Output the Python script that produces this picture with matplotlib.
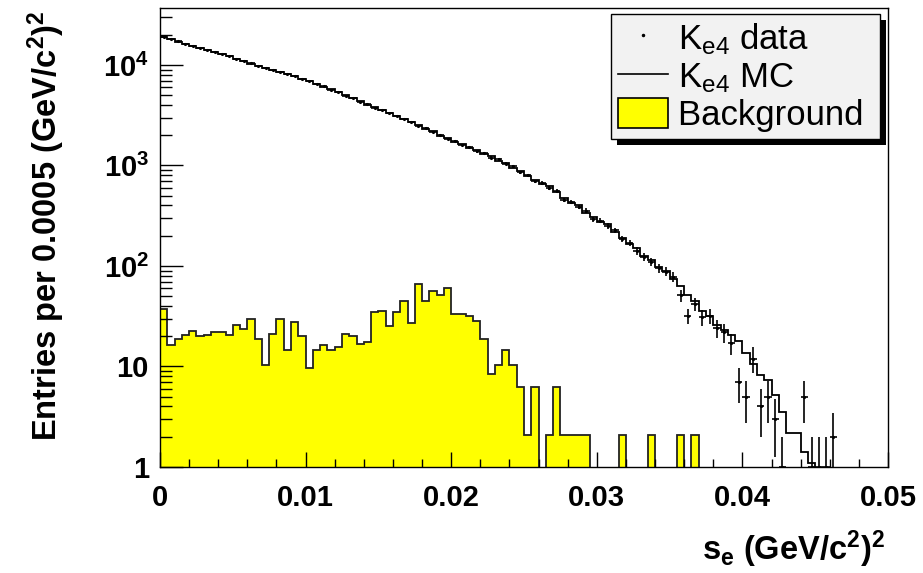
import numpy as np
import matplotlib
matplotlib.use("Agg")
import matplotlib.pyplot as plt
from matplotlib.lines import Line2D
from matplotlib.patches import Patch, Rectangle
from matplotlib.ticker import FixedLocator, MultipleLocator, NullFormatter, LogLocator
from matplotlib.transforms import IdentityTransform

plt.rcParams['font.family'] = ['Liberation Sans', 'DejaVu Sans']
plt.rcParams['mathtext.fontset'] = 'custom'
plt.rcParams['mathtext.rm'] = 'Liberation Sans'
plt.rcParams['mathtext.it'] = 'Liberation Sans:italic'
plt.rcParams['mathtext.bf'] = 'Liberation Sans:bold'

# 100 bins of 0.0005 (GeV/c^2)^2 from 0 to 0.05
bin_edges = np.linspace(0.0, 0.05, 101)

# Ke4 Monte Carlo (entries per bin)
mc = [19010, 18090, 17060, 16280, 15390, 14760, 14020, 13480, 12790, 12230,
      11510, 10970, 10330, 9850, 9360, 8950, 8510, 8170, 7710, 7310,
      6850, 6510, 6100, 5750, 5330, 5020, 4650, 4380, 4040, 3810,
      3530, 3350, 3090, 2930, 2690, 2530, 2310, 2180, 1980, 1880,
      1710, 1630, 1480, 1420, 1290, 1240, 1120, 1070, 950, 885,
      780, 715, 650, 620, 540, 470, 420, 400, 340, 305,
      272, 260, 216, 192, 164, 150, 127, 116, 98, 89,
      75, 63, 51, 45, 36, 32, 26, 23, 20.4, 17.8,
      13.5, 10.5, 8.3, 7.4, 5.2, 3.5, 2.2, 2.2, 1.4, 1.1,
      0.8, 0.6, 0.5, 0.4, 0.3, 0.2, 0.2, 0.1, 0.1, 0.1]

# Ke4 data (events per bin)
data = [19150, 17980, 17140, 16190, 15470, 14690, 14110, 13390, 12860, 12150,
        11580, 10900, 10390, 9790, 9410, 8890, 8570, 8120, 7760, 7260,
        6900, 6460, 6150, 5700, 5380, 4970, 4690, 4330, 4080, 3770,
        3570, 3310, 3130, 2890, 2730, 2490, 2350, 2140, 2020, 1840,
        1750, 1590, 1520, 1380, 1330, 1200, 1150, 1040, 980, 860,
        800, 695, 670, 600, 560, 455, 435, 385, 355, 292,
        283, 250, 226, 185, 170, 142, 124, 110, 95, 88,
        78, 51, 32, 42, 31, 32, 24, 22, 17, 7,
        5, 12, 4, 5, 3, 1, 0, 0, 5, 1,
        1, 1, 2, 0, 0, 0, 0, 0, 0, 0]

# background estimate
bkg = [37, 16.5, 18.7, 20.6, 22.7, 20.0, 20.7, 22.0, 22.0, 20.6,
       26.0, 23.6, 30.0, 18.8, 10.4, 20.9, 30.0, 14.6, 27.7, 20.0,
       9.6, 14.6, 16.5, 14.6, 15.5, 20.9, 20.0, 16.6, 17.7, 35.0,
       36.0, 25.3, 35.0, 45.0, 27.3, 66.0, 45.0, 56.0, 52.0, 60.0,
       33.0, 33.0, 31.8, 28.6, 18.9, 8.4, 10.4, 14.5, 10.4, 6.3,
       2.1, 6.3, 0, 2.1, 6.3, 2.1, 2.1, 2.1, 2.1, 0,
       0, 0, 0, 2.1, 0, 0, 0, 2.1, 0, 0,
       0, 2.1, 0, 2.1, 0, 0, 0, 0, 0, 0,
       0, 0, 0, 0, 0, 0, 0, 0, 0, 0,
       0, 0, 0, 0, 0, 0, 0, 0, 0, 0]

W, H = 923, 573
fig = plt.figure(figsize=(W / 100, H / 100), dpi=100)
ax = fig.add_axes([160 / W, 1 - 467 / H, 728 / W, 459 / H])
ax.set_yscale('log')

bkg_arr = np.array(bkg, dtype=float)
bkg_draw = np.where(bkg_arr > 0, bkg_arr, 0.05)
ax.stairs(bkg_draw, bin_edges, baseline=0.05, fill=True, facecolor='#ffff00',
          edgecolor='none', zorder=1)
ax.stairs(bkg_draw, bin_edges, baseline=0.05, fill=False, color='#222222',
          lw=1.3, zorder=1.5)

ax.stairs(np.array(mc), bin_edges, baseline=None, color='black', lw=1.3, zorder=2)

data_arr = np.array(data, dtype=float)
centers = 0.5 * (bin_edges[:-1] + bin_edges[1:])
m = data_arr > 0
ax.errorbar(centers[m], data_arr[m], yerr=np.sqrt(data_arr[m]), xerr=0.00025,
            fmt='.', ms=2.5, color='black', ecolor='black', elinewidth=1.2,
            capsize=0, zorder=3)

ax.set_xlim(0, 0.05)
ax.set_ylim(1, 10 ** 4.567)

ax.xaxis.set_major_locator(FixedLocator([0, 0.01, 0.02, 0.03, 0.04, 0.05]))
ax.set_xticklabels(['0', '0.01', '0.02', '0.03', '0.04', '0.05'])
ax.xaxis.set_minor_locator(MultipleLocator(0.002))
ax.yaxis.set_major_locator(FixedLocator([1, 10, 100, 1000, 10000]))
ax.set_yticklabels(['1', '10', r'$\mathbf{10^{2}}$', r'$\mathbf{10^{3}}$', r'$\mathbf{10^{4}}$'])
ax.yaxis.set_minor_locator(LogLocator(base=10, subs=np.arange(2, 10)))
ax.yaxis.set_minor_formatter(NullFormatter())

for lab in ax.get_xticklabels() + ax.get_yticklabels():
    lab.set_fontweight('bold')
    lab.set_fontsize(21)

ax.tick_params(axis='both', which='both', direction='in', top=False, right=False,
               width=1.0, color='black')
ax.tick_params(axis='x', which='major', length=11, pad=12)
ax.tick_params(axis='x', which='minor', length=5.5)
ax.tick_params(axis='y', which='major', length=16.5, pad=8)
ax.tick_params(axis='y', which='minor', length=8.5)
for s in ax.spines.values():
    s.set_linewidth(1.0)

ax.set_ylabel(r'Entries per 0.0005 (GeV/c$^{\mathbf{2}}$)$^{\mathbf{2}}$',
              fontsize=23.5, fontweight='bold', loc='top')
ax.yaxis.set_label_coords(-0.128, 0.995)
ax.set_xlabel(r'$\mathbf{s_{e}}$ (GeV/c$^{\mathbf{2}}$)$^{\mathbf{2}}$',
              fontsize=23.5, fontweight='bold', loc='right')
ax.xaxis.set_label_coords(0.996, -0.135)

handles = [
    Line2D([], [], ls='none', marker='.', ms=3, color='black'),
    Line2D([], [], color='black', lw=1.2),
    Patch(facecolor='#ffff00', edgecolor='black', lw=1.2),
]
labels = [r'K$_{\mathrm{e4}}$ data', r'K$_{\mathrm{e4}}$ MC', 'Background ']
leg = ax.legend(handles, labels, loc='upper right', bbox_to_anchor=(0.989, 0.987),
                borderaxespad=0, fontsize=25, frameon=True, fancybox=False,
                edgecolor='black', facecolor='#f2f2f2', framealpha=1,
                handlelength=1.42, handleheight=0.95, handletextpad=0.3,
                labelspacing=0.1, borderpad=0.2)
leg.get_frame().set_linewidth(1.0)
leg.set_zorder(6)

fig.canvas.draw()
bb = leg.get_window_extent()
shadow = Rectangle((bb.x0 + 6, bb.y0 - 6), bb.width, bb.height, transform=IdentityTransform(),
                   facecolor='black', edgecolor='none', zorder=5, clip_on=False)
ax.add_artist(shadow)

fig.savefig('out.png', dpi=100)
